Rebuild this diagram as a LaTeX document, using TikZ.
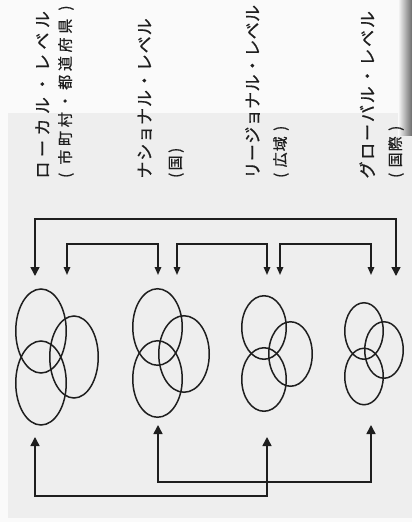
\documentclass[tikz,border=0pt]{standalone}
\usepackage{fontspec}
\newfontfamily\jp[FakeBold=0.9]{Noto Sans CJK JP}
\usetikzlibrary{arrows.meta,shapes.geometric}
\makeatletter
\newcommand\spacedtext[2]{\@tfor\sp@c:=#2\do{\makebox[#1][c]{\sp@c}}}
\newcommand\ptext[2]{\llap{(}\hspace{\dimexpr#1/2-0.2em\relax}\spacedtext{#1}{#2}\hspace{\dimexpr#1/2-0.2em\relax}\rlap{)}}
\makeatother
\definecolor{ink}{HTML}{1E1E1E}
\definecolor{paper}{HTML}{FAFAFA}
\definecolor{panel}{HTML}{EEEEEE}
\tikzset{
  lblA/.style={rotate=90, anchor=west, inner sep=0pt, text=ink,
    font=\jp\fontsize{17}{17}\selectfont, text height=0.88em, text depth=0.12em},
  lblB/.style={lblA, font=\jp\fontsize{15}{15}\selectfont},
  ell/.style={draw=ink, ellipse, line width=1.5pt, inner sep=0pt},
  conn/.style={draw=ink, line width=1.5pt},
  bigtip/.style={{Triangle[length=9pt,width=9pt]}-{Triangle[length=9pt,width=9pt]}},
  smalltip/.style={{Triangle[length=8pt,width=6.5pt]}-{Triangle[length=8pt,width=6.5pt]}}
}
\begin{document}
\begin{tikzpicture}[x=1pt,y=1pt]
\useasboundingbox (0,0) rectangle (412,-522);
% background
\fill[paper] (0,0) rectangle (412,-522);
\fill[panel] (8,-113) rectangle (412,-518);
\shade[left color=paper, right color=black!58] (398,0) rectangle (412,-135);

% labels
\node[lblA] (l1) at (45,-181) {\spacedtext{21.5pt}{ローカル・レベル}};
\node[lblB] (l1b) at (67,-173) {\ptext{18.7pt}{市町村・都道府県}};
\node[lblA] (l2) at (147,-179.2) {\spacedtext{17.9pt}{ナショナル・レベル}};
\node[lblB] (l2b) at (177,-173) {\ptext{13pt}{国}};
\node[lblA] (l3) at (255,-178.9) {\spacedtext{17.4pt}{リージョナル・レベル}};
\node[lblB] (l3b) at (282,-173) {\ptext{16pt}{広域}};
\node[lblA] (l4) at (370,-179.6) {\spacedtext{18.8pt}{グローバル・レベル}};
\node[lblB] (l4b) at (397,-173) {\ptext{16pt}{国際}};

% ellipse groups
\node[ell, minimum width=50.5pt, minimum height=84pt] (e1a) at (41,-331) {};
\node[ell, minimum width=48.5pt, minimum height=82pt] (e1b) at (74,-357) {};
\node[ell, minimum width=50.5pt, minimum height=84pt] (e1c) at (41,-383) {};

\node[ell, minimum width=49.5pt, minimum height=76.5pt] (e2a) at (157.5,-327) {};
\node[ell, minimum width=50.5pt, minimum height=76.5pt] (e2b) at (184,-354) {};
\node[ell, minimum width=49.5pt, minimum height=76.5pt] (e2c) at (157.5,-379) {};

\node[ell, minimum width=44.5pt, minimum height=63.5pt] (e3a) at (264,-327.5) {};
\node[ell, minimum width=43.5pt, minimum height=64.5pt] (e3b) at (290.5,-354) {};
\node[ell, minimum width=44.5pt, minimum height=63.5pt] (e3c) at (264,-379.5) {};

\node[ell, minimum width=38.5pt, minimum height=56.5pt] (e4a) at (364,-331) {};
\node[ell, minimum width=38.5pt, minimum height=56.5pt] (e4b) at (384,-350) {};
\node[ell, minimum width=38.5pt, minimum height=56.5pt] (e4c) at (364,-376.5) {};

% connector points (top)
\coordinate (d1) at (35,-276);
\coordinate (d2) at (67,-275);
\coordinate (d3) at (158,-275);
\coordinate (d4) at (177,-275);
\coordinate (d5) at (267,-275);
\coordinate (d6) at (280,-275);
\coordinate (d7) at (371,-275);
\coordinate (d8) at (396,-276);
\coordinate (h8) at (396,-219);
\coordinate (s3) at (158,-244);
\coordinate (s5) at (267,-244);
\coordinate (s7) at (371,-244);
% connector points (bottom)
\coordinate (u1) at (35,-437);
\coordinate (u2) at (158,-425);
\coordinate (u3) at (267,-437);
\coordinate (u4) at (371,-425);
\coordinate (b3) at (267,-496);
\coordinate (b4) at (371,-482);

\draw[conn, bigtip] (d1) |- (h8) -- (d8);
\draw[conn, smalltip] (d2) |- (s3) -- (d3);
\draw[conn, smalltip] (d4) |- (s5) -- (d5);
\draw[conn, smalltip] (d6) |- (s7) -- (d7);
\draw[conn, bigtip] (u1) |- (b3) -- (u3);
\draw[conn, bigtip] (u2) |- (b4) -- (u4);
\end{tikzpicture}
\end{document}
